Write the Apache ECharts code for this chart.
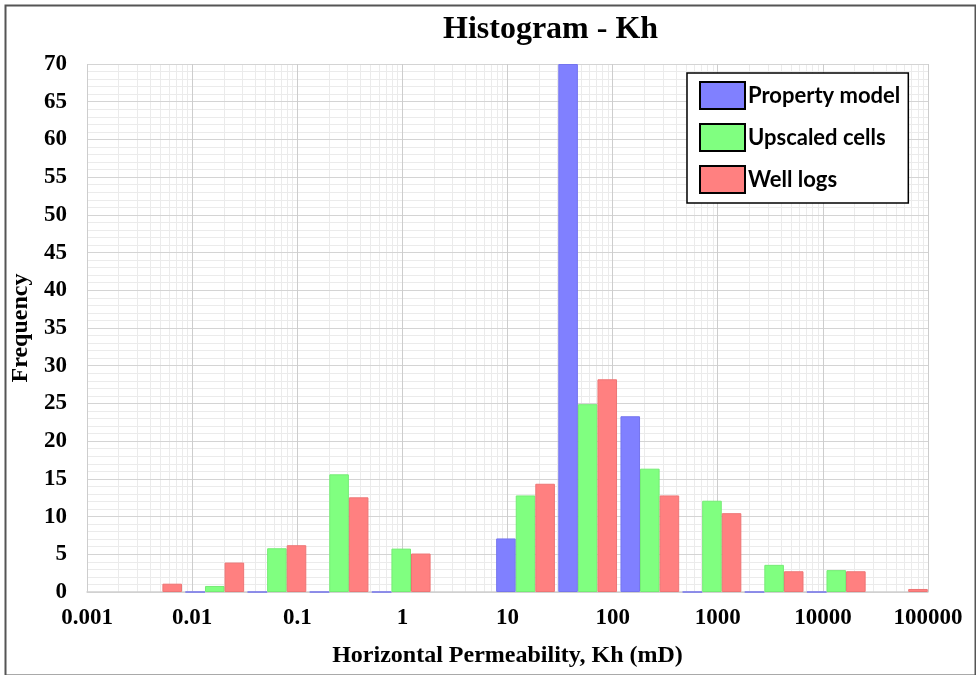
<!DOCTYPE html>
<html>
<head>
<meta charset="utf-8">
<title>Histogram - Kh</title>
<script src="https://cdn.jsdelivr.net/npm/echarts@6.0.0/dist/echarts.min.js"></script>
<style>
html,body{margin:0;padding:0;background:#fff;}
#main{width:976px;height:675px;}
</style>
</head>
<body>
<div id="main"></div>
<script>
// histogram bins, left to right (the first one sits left of 0.001 and is empty)
const bins = ['b0', 'b1', 'b2', 'b3', 'b4', 'b5', 'b6', 'b7', 'b8', 'b9', 'b10', 'b11', 'b12', 'b13'];
const propertyModel = [null, null, 0, 0, 0, 0, null, 7.1, 70, 23.3, 0, 0, 0, null];
const upscaledCells = [null, null, 0.8, 5.8, 15.6, 5.75, null, 12.8, 24.9, 16.35, 12.1, 3.6, 2.9, null];
const wellLogs = [null, 1.1, 3.9, 6.2, 12.55, 5.1, null, 14.35, 28.2, 12.8, 10.45, 2.75, 2.75, 0.4];

const kMin = 0.001, kMax = 100000;
const freqMax = 70, freqStep = 5;

window.addEventListener("load", function () {
    let chart = echarts.init(document.getElementById('main'));

    // minor vertical grid lines at 2..9 of every decade (exponent space)
    let minorExp = [];
    for (let n = Math.log10(kMin); n < Math.log10(kMax); n++) {
        for (let m = 2; m <= 9; m++) minorExp.push(n + Math.log10(m));
    }

    const serif = 'Liberation Serif';
    const labelStyle = {fontFamily: serif, fontWeight: 'bold', fontSize: 23, color: '#000'};

    let option = {
        backgroundColor: '#fff',
        animation: false,
        title: {
            text: 'Histogram - Kh',
            left: 438,
            top: 9,
            textStyle: {fontFamily: serif, fontWeight: 'bold', fontSize: 32, color: '#000'}
        },
        legend: {
            data: ['Property model', 'Upscaled cells', 'Well logs'],
            orient: 'vertical',
            left: 687,
            top: 73,
            icon: 'rect',
            itemWidth: 45,
            itemHeight: 27,
            itemGap: 13,
            padding: [8, 8, 9, 12],
            backgroundColor: '#fff',
            borderColor: '#000',
            borderWidth: 1.5,
            borderRadius: 0,
            itemStyle: {borderColor: '#000', borderWidth: 2},
            textStyle: {fontFamily: 'Lato', fontWeight: 'bold', fontSize: 22, color: '#000', padding: [0, 0, 0, -2]}
        },
        grid: [
            {left: 87, right: 48, top: 64, bottom: 83},
            {left: 59.4, right: 46.5, top: 64, bottom: 83}
        ],
        xAxis: [
            {
                type: 'log',
                gridIndex: 0,
                logBase: 10,
                min: kMin,
                max: kMax,
                interval: 1,
                z: 1,
                name: 'Horizontal Permeability, Kh (mD)',
                nameLocation: 'middle',
                nameGap: 52,
                nameTextStyle: {fontFamily: serif, fontWeight: 'bold', fontSize: 24, color: '#000'},
                axisLine: {show: true, onZero: false, lineStyle: {color: '#d0d0d0', width: 1.5}},
                axisTick: {show: false},
                axisLabel: Object.assign({
                    margin: 15,
                    formatter: function (v) { return String(Number(v.toPrecision(6))); }
                }, labelStyle),
                splitLine: {show: true, lineStyle: {color: '#cdcdcd', width: 1}}
            },
            {
                type: 'value',
                gridIndex: 0,
                min: Math.log10(kMin),
                max: Math.log10(kMax),
                z: 0,
                axisLine: {show: false},
                axisLabel: {show: false},
                axisTick: {show: false, customValues: minorExp},
                splitLine: {show: true, lineStyle: {color: '#ebebeb', width: 1}}
            },
            {
                type: 'category',
                gridIndex: 1,
                data: bins,
                show: false
            }
        ],
        yAxis: [
            {
                type: 'value',
                gridIndex: 0,
                min: 0,
                max: freqMax,
                interval: freqStep,
                z: 1,
                name: 'Frequency',
                nameLocation: 'middle',
                nameGap: 53,
                nameTextStyle: {fontFamily: serif, fontWeight: 'bold', fontSize: 24, color: '#000'},
                axisLine: {show: false},
                axisTick: {show: false},
                axisLabel: Object.assign({margin: 20}, labelStyle),
                splitLine: {show: true, lineStyle: {color: '#d4d4d4', width: 1}},
                minorTick: {show: false, splitNumber: 5},
                minorSplitLine: {show: true, lineStyle: {color: '#ebebeb', width: 1}}
            },
            {
                type: 'value',
                gridIndex: 1,
                min: 0,
                max: freqMax,
                show: false,
                splitLine: {show: false}
            }
        ],
        series: [
            {
                name: 'Property model',
                type: 'bar',
                xAxisIndex: 2,
                yAxisIndex: 1,
                data: propertyModel,
                barWidth: '31.5%',
                barGap: '0%',
                itemStyle: {color: '#8080ff', borderColor: '#7474ee', borderWidth: 1}
            },
            {
                name: 'Upscaled cells',
                type: 'bar',
                xAxisIndex: 2,
                yAxisIndex: 1,
                data: upscaledCells,
                barWidth: '31.5%',
                barGap: '0%',
                itemStyle: {color: '#80ff80', borderColor: '#74ec74', borderWidth: 1}
            },
            {
                name: 'Well logs',
                type: 'bar',
                xAxisIndex: 2,
                yAxisIndex: 1,
                data: wellLogs,
                barWidth: '31.5%',
                barGap: '0%',
                itemStyle: {color: '#ff8080', borderColor: '#ee7474', borderWidth: 1}
            }
        ],
        graphic: [
            {
                type: 'rect',
                left: 3,
                top: 3,
                shape: {width: 970, height: 670},
                style: {fill: null, stroke: '#555', lineWidth: 2},
                silent: true
            }
        ]
    };

    chart.setOption(option);
}, false);
</script>
</body>
</html>
